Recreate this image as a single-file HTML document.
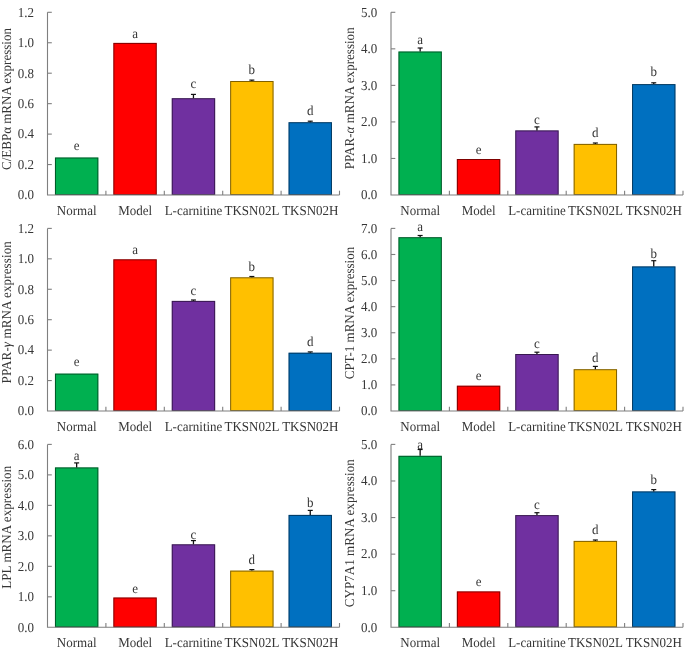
<!DOCTYPE html>
<html><head><meta charset="utf-8"><style>
html,body{margin:0;padding:0;background:#fff;}
body{width:685px;height:652px;overflow:hidden;}
svg{display:block;}
#w{}
text{font-family:"Liberation Serif",serif;font-size:13px;fill:#363636;text-rendering:geometricPrecision;}
</style></head><body>
<div id="w"><svg width="685" height="652" viewBox="0 0 685 652">
<defs><filter id="bl" x="0" y="0" width="100%" height="100%" filterUnits="userSpaceOnUse"><feOffset dx="0" dy="0"/></filter></defs>
<rect width="685" height="652" fill="#fff"/>
<g filter="url(#bl)">
<g><rect x="54.95" y="157.50" width="43.40" height="37.50" fill="#00B050"/><rect x="55.45" y="158.00" width="42.40" height="36.50" fill="none" stroke="#000" stroke-opacity="0.5" stroke-width="1.0"/><text transform="translate(76.65,149.80) scale(1,1.05)" text-anchor="middle">e</text><rect x="113.35" y="42.90" width="43.40" height="152.10" fill="#FF0000"/><rect x="113.85" y="43.40" width="42.40" height="151.10" fill="none" stroke="#000" stroke-opacity="0.5" stroke-width="1.0"/><text transform="translate(135.05,38.10) scale(1,1.05)" text-anchor="middle">a</text><rect x="171.75" y="98.20" width="43.40" height="96.80" fill="#7030A0"/><rect x="172.25" y="98.70" width="42.40" height="95.80" fill="none" stroke="#000" stroke-opacity="0.5" stroke-width="1.0"/><line x1="193.45" y1="98.20" x2="193.45" y2="94.40" stroke="#111" stroke-width="1.3"/><line x1="190.95" y1="94.40" x2="195.95" y2="94.40" stroke="#111" stroke-width="1.2"/><text transform="translate(193.45,88.20) scale(1,1.05)" text-anchor="middle">c</text><rect x="230.15" y="81.00" width="43.40" height="114.00" fill="#FFC000"/><rect x="230.65" y="81.50" width="42.40" height="113.00" fill="none" stroke="#000" stroke-opacity="0.5" stroke-width="1.0"/><line x1="251.85" y1="81.00" x2="251.85" y2="80.10" stroke="#111" stroke-width="1.3"/><line x1="249.35" y1="80.10" x2="254.35" y2="80.10" stroke="#111" stroke-width="1.2"/><text transform="translate(251.85,73.60) scale(1,1.05)" text-anchor="middle">b</text><rect x="288.55" y="122.20" width="43.40" height="72.80" fill="#0070C0"/><rect x="289.05" y="122.70" width="42.40" height="71.80" fill="none" stroke="#000" stroke-opacity="0.5" stroke-width="1.0"/><line x1="310.25" y1="122.20" x2="310.25" y2="121.20" stroke="#111" stroke-width="1.3"/><line x1="307.75" y1="121.20" x2="312.75" y2="121.20" stroke="#111" stroke-width="1.2"/><text transform="translate(310.25,115.10) scale(1,1.05)" text-anchor="middle">d</text><path d="M47.50,12.30V195.00H339.50" fill="none" stroke="#7f7f7f" stroke-width="1.1"/><text transform="translate(34.10,199.30) scale(1,1.05)" text-anchor="end">0.0</text><line x1="47.50" y1="164.55" x2="51.80" y2="164.55" stroke="#7f7f7f" stroke-width="1.1"/><text transform="translate(34.10,168.85) scale(1,1.05)" text-anchor="end">0.2</text><line x1="47.50" y1="134.10" x2="51.80" y2="134.10" stroke="#7f7f7f" stroke-width="1.1"/><text transform="translate(34.10,138.40) scale(1,1.05)" text-anchor="end">0.4</text><line x1="47.50" y1="103.65" x2="51.80" y2="103.65" stroke="#7f7f7f" stroke-width="1.1"/><text transform="translate(34.10,107.95) scale(1,1.05)" text-anchor="end">0.6</text><line x1="47.50" y1="73.20" x2="51.80" y2="73.20" stroke="#7f7f7f" stroke-width="1.1"/><text transform="translate(34.10,77.50) scale(1,1.05)" text-anchor="end">0.8</text><line x1="47.50" y1="42.75" x2="51.80" y2="42.75" stroke="#7f7f7f" stroke-width="1.1"/><text transform="translate(34.10,47.05) scale(1,1.05)" text-anchor="end">1.0</text><line x1="47.50" y1="12.30" x2="51.80" y2="12.30" stroke="#7f7f7f" stroke-width="1.1"/><text transform="translate(34.10,16.60) scale(1,1.05)" text-anchor="end">1.2</text><line x1="105.90" y1="195.00" x2="105.90" y2="190.70" stroke="#7f7f7f" stroke-width="1.1"/><line x1="164.30" y1="195.00" x2="164.30" y2="190.70" stroke="#7f7f7f" stroke-width="1.1"/><line x1="222.70" y1="195.00" x2="222.70" y2="190.70" stroke="#7f7f7f" stroke-width="1.1"/><line x1="281.10" y1="195.00" x2="281.10" y2="190.70" stroke="#7f7f7f" stroke-width="1.1"/><line x1="339.50" y1="195.00" x2="339.50" y2="190.70" stroke="#7f7f7f" stroke-width="1.1"/><text transform="translate(76.70,214.50) scale(1,1.05)" text-anchor="middle">Normal</text><text transform="translate(135.10,214.50) scale(1,1.05)" text-anchor="middle">Model</text><text transform="translate(193.50,214.50) scale(1,1.05)" text-anchor="middle">L-carnitine</text><text transform="translate(251.90,214.50) scale(1,1.05)" text-anchor="middle">TKSN02L</text><text transform="translate(310.30,214.50) scale(1,1.05)" text-anchor="middle">TKSN02H</text><text transform="translate(11.10,99.00) rotate(-90) scale(1,1.05)" text-anchor="middle" textLength="141.9" lengthAdjust="spacing">C/EBP&#945; mRNA expression</text></g>
<g><rect x="398.45" y="51.50" width="43.40" height="143.50" fill="#00B050"/><rect x="398.95" y="52.00" width="42.40" height="142.50" fill="none" stroke="#000" stroke-opacity="0.5" stroke-width="1.0"/><line x1="420.15" y1="51.50" x2="420.15" y2="48.00" stroke="#111" stroke-width="1.3"/><line x1="417.65" y1="48.00" x2="422.65" y2="48.00" stroke="#111" stroke-width="1.2"/><text transform="translate(420.15,44.00) scale(1,1.05)" text-anchor="middle">a</text><rect x="456.85" y="159.00" width="43.40" height="36.00" fill="#FF0000"/><rect x="457.35" y="159.50" width="42.40" height="35.00" fill="none" stroke="#000" stroke-opacity="0.5" stroke-width="1.0"/><text transform="translate(478.55,153.70) scale(1,1.05)" text-anchor="middle">e</text><rect x="515.25" y="130.40" width="43.40" height="64.60" fill="#7030A0"/><rect x="515.75" y="130.90" width="42.40" height="63.60" fill="none" stroke="#000" stroke-opacity="0.5" stroke-width="1.0"/><line x1="536.95" y1="130.40" x2="536.95" y2="126.90" stroke="#111" stroke-width="1.3"/><line x1="534.45" y1="126.90" x2="539.45" y2="126.90" stroke="#111" stroke-width="1.2"/><text transform="translate(536.95,124.30) scale(1,1.05)" text-anchor="middle">c</text><rect x="573.65" y="143.90" width="43.40" height="51.10" fill="#FFC000"/><rect x="574.15" y="144.40" width="42.40" height="50.10" fill="none" stroke="#000" stroke-opacity="0.5" stroke-width="1.0"/><line x1="595.35" y1="143.90" x2="595.35" y2="143.00" stroke="#111" stroke-width="1.3"/><line x1="592.85" y1="143.00" x2="597.85" y2="143.00" stroke="#111" stroke-width="1.2"/><text transform="translate(595.35,136.60) scale(1,1.05)" text-anchor="middle">d</text><rect x="632.05" y="84.10" width="43.40" height="110.90" fill="#0070C0"/><rect x="632.55" y="84.60" width="42.40" height="109.90" fill="none" stroke="#000" stroke-opacity="0.5" stroke-width="1.0"/><line x1="653.75" y1="84.10" x2="653.75" y2="82.80" stroke="#111" stroke-width="1.3"/><line x1="651.25" y1="82.80" x2="656.25" y2="82.80" stroke="#111" stroke-width="1.2"/><text transform="translate(653.75,75.80) scale(1,1.05)" text-anchor="middle">b</text><path d="M391.00,12.30V195.00H683.00" fill="none" stroke="#7f7f7f" stroke-width="1.1"/><text transform="translate(377.30,199.30) scale(1,1.05)" text-anchor="end">0.0</text><line x1="391.00" y1="158.46" x2="395.30" y2="158.46" stroke="#7f7f7f" stroke-width="1.1"/><text transform="translate(377.30,162.76) scale(1,1.05)" text-anchor="end">1.0</text><line x1="391.00" y1="121.92" x2="395.30" y2="121.92" stroke="#7f7f7f" stroke-width="1.1"/><text transform="translate(377.30,126.22) scale(1,1.05)" text-anchor="end">2.0</text><line x1="391.00" y1="85.38" x2="395.30" y2="85.38" stroke="#7f7f7f" stroke-width="1.1"/><text transform="translate(377.30,89.68) scale(1,1.05)" text-anchor="end">3.0</text><line x1="391.00" y1="48.84" x2="395.30" y2="48.84" stroke="#7f7f7f" stroke-width="1.1"/><text transform="translate(377.30,53.14) scale(1,1.05)" text-anchor="end">4.0</text><line x1="391.00" y1="12.30" x2="395.30" y2="12.30" stroke="#7f7f7f" stroke-width="1.1"/><text transform="translate(377.30,16.60) scale(1,1.05)" text-anchor="end">5.0</text><line x1="449.40" y1="195.00" x2="449.40" y2="190.70" stroke="#7f7f7f" stroke-width="1.1"/><line x1="507.80" y1="195.00" x2="507.80" y2="190.70" stroke="#7f7f7f" stroke-width="1.1"/><line x1="566.20" y1="195.00" x2="566.20" y2="190.70" stroke="#7f7f7f" stroke-width="1.1"/><line x1="624.60" y1="195.00" x2="624.60" y2="190.70" stroke="#7f7f7f" stroke-width="1.1"/><line x1="683.00" y1="195.00" x2="683.00" y2="190.70" stroke="#7f7f7f" stroke-width="1.1"/><text transform="translate(420.20,214.50) scale(1,1.05)" text-anchor="middle">Normal</text><text transform="translate(478.60,214.50) scale(1,1.05)" text-anchor="middle">Model</text><text transform="translate(537.00,214.50) scale(1,1.05)" text-anchor="middle">L-carnitine</text><text transform="translate(595.40,214.50) scale(1,1.05)" text-anchor="middle">TKSN02L</text><text transform="translate(653.80,214.50) scale(1,1.05)" text-anchor="middle">TKSN02H</text><text transform="translate(354.10,98.30) rotate(-90) scale(1,1.05)" text-anchor="middle" textLength="141.9" lengthAdjust="spacing">PPAR-<tspan font-style="italic">&#945;</tspan> mRNA expression</text></g>
<g><rect x="54.95" y="373.60" width="43.40" height="37.40" fill="#00B050"/><rect x="55.45" y="374.10" width="42.40" height="36.40" fill="none" stroke="#000" stroke-opacity="0.5" stroke-width="1.0"/><text transform="translate(76.65,366.30) scale(1,1.05)" text-anchor="middle">e</text><rect x="113.35" y="259.30" width="43.40" height="151.70" fill="#FF0000"/><rect x="113.85" y="259.80" width="42.40" height="150.70" fill="none" stroke="#000" stroke-opacity="0.5" stroke-width="1.0"/><text transform="translate(135.05,254.00) scale(1,1.05)" text-anchor="middle">a</text><rect x="171.75" y="300.90" width="43.40" height="110.10" fill="#7030A0"/><rect x="172.25" y="301.40" width="42.40" height="109.10" fill="none" stroke="#000" stroke-opacity="0.5" stroke-width="1.0"/><line x1="193.45" y1="300.90" x2="193.45" y2="300.00" stroke="#111" stroke-width="1.3"/><line x1="190.95" y1="300.00" x2="195.95" y2="300.00" stroke="#111" stroke-width="1.2"/><text transform="translate(193.45,295.20) scale(1,1.05)" text-anchor="middle">c</text><rect x="230.15" y="277.30" width="43.40" height="133.70" fill="#FFC000"/><rect x="230.65" y="277.80" width="42.40" height="132.70" fill="none" stroke="#000" stroke-opacity="0.5" stroke-width="1.0"/><line x1="251.85" y1="277.30" x2="251.85" y2="276.50" stroke="#111" stroke-width="1.3"/><line x1="249.35" y1="276.50" x2="254.35" y2="276.50" stroke="#111" stroke-width="1.2"/><text transform="translate(251.85,271.10) scale(1,1.05)" text-anchor="middle">b</text><rect x="288.55" y="352.70" width="43.40" height="58.30" fill="#0070C0"/><rect x="289.05" y="353.20" width="42.40" height="57.30" fill="none" stroke="#000" stroke-opacity="0.5" stroke-width="1.0"/><line x1="310.25" y1="352.70" x2="310.25" y2="351.90" stroke="#111" stroke-width="1.3"/><line x1="307.75" y1="351.90" x2="312.75" y2="351.90" stroke="#111" stroke-width="1.2"/><text transform="translate(310.25,346.00) scale(1,1.05)" text-anchor="middle">d</text><path d="M47.50,228.40V411.00H339.50" fill="none" stroke="#7f7f7f" stroke-width="1.1"/><text transform="translate(34.10,415.30) scale(1,1.05)" text-anchor="end">0.0</text><line x1="47.50" y1="380.57" x2="51.80" y2="380.57" stroke="#7f7f7f" stroke-width="1.1"/><text transform="translate(34.10,384.87) scale(1,1.05)" text-anchor="end">0.2</text><line x1="47.50" y1="350.13" x2="51.80" y2="350.13" stroke="#7f7f7f" stroke-width="1.1"/><text transform="translate(34.10,354.43) scale(1,1.05)" text-anchor="end">0.4</text><line x1="47.50" y1="319.70" x2="51.80" y2="319.70" stroke="#7f7f7f" stroke-width="1.1"/><text transform="translate(34.10,324.00) scale(1,1.05)" text-anchor="end">0.6</text><line x1="47.50" y1="289.27" x2="51.80" y2="289.27" stroke="#7f7f7f" stroke-width="1.1"/><text transform="translate(34.10,293.57) scale(1,1.05)" text-anchor="end">0.8</text><line x1="47.50" y1="258.83" x2="51.80" y2="258.83" stroke="#7f7f7f" stroke-width="1.1"/><text transform="translate(34.10,263.13) scale(1,1.05)" text-anchor="end">1.0</text><line x1="47.50" y1="228.40" x2="51.80" y2="228.40" stroke="#7f7f7f" stroke-width="1.1"/><text transform="translate(34.10,232.70) scale(1,1.05)" text-anchor="end">1.2</text><line x1="105.90" y1="411.00" x2="105.90" y2="406.70" stroke="#7f7f7f" stroke-width="1.1"/><line x1="164.30" y1="411.00" x2="164.30" y2="406.70" stroke="#7f7f7f" stroke-width="1.1"/><line x1="222.70" y1="411.00" x2="222.70" y2="406.70" stroke="#7f7f7f" stroke-width="1.1"/><line x1="281.10" y1="411.00" x2="281.10" y2="406.70" stroke="#7f7f7f" stroke-width="1.1"/><line x1="339.50" y1="411.00" x2="339.50" y2="406.70" stroke="#7f7f7f" stroke-width="1.1"/><text transform="translate(76.70,430.60) scale(1,1.05)" text-anchor="middle">Normal</text><text transform="translate(135.10,430.60) scale(1,1.05)" text-anchor="middle">Model</text><text transform="translate(193.50,430.60) scale(1,1.05)" text-anchor="middle">L-carnitine</text><text transform="translate(251.90,430.60) scale(1,1.05)" text-anchor="middle">TKSN02L</text><text transform="translate(310.30,430.60) scale(1,1.05)" text-anchor="middle">TKSN02H</text><text transform="translate(11.10,312.30) rotate(-90) scale(1,1.05)" text-anchor="middle" textLength="142.2" lengthAdjust="spacing">PPAR-<tspan font-style="italic">&#947;</tspan> mRNA expression</text></g>
<g><rect x="398.45" y="237.20" width="43.40" height="173.80" fill="#00B050"/><rect x="398.95" y="237.70" width="42.40" height="172.80" fill="none" stroke="#000" stroke-opacity="0.5" stroke-width="1.0"/><line x1="420.15" y1="237.20" x2="420.15" y2="235.50" stroke="#111" stroke-width="1.3"/><line x1="417.65" y1="235.50" x2="422.65" y2="235.50" stroke="#111" stroke-width="1.2"/><text transform="translate(420.15,230.70) scale(1,1.05)" text-anchor="middle">a</text><rect x="456.85" y="385.70" width="43.40" height="25.30" fill="#FF0000"/><rect x="457.35" y="386.20" width="42.40" height="24.30" fill="none" stroke="#000" stroke-opacity="0.5" stroke-width="1.0"/><text transform="translate(478.55,380.30) scale(1,1.05)" text-anchor="middle">e</text><rect x="515.25" y="354.00" width="43.40" height="57.00" fill="#7030A0"/><rect x="515.75" y="354.50" width="42.40" height="56.00" fill="none" stroke="#000" stroke-opacity="0.5" stroke-width="1.0"/><line x1="536.95" y1="354.00" x2="536.95" y2="352.20" stroke="#111" stroke-width="1.3"/><line x1="534.45" y1="352.20" x2="539.45" y2="352.20" stroke="#111" stroke-width="1.2"/><text transform="translate(536.95,347.90) scale(1,1.05)" text-anchor="middle">c</text><rect x="573.65" y="369.20" width="43.40" height="41.80" fill="#FFC000"/><rect x="574.15" y="369.70" width="42.40" height="40.80" fill="none" stroke="#000" stroke-opacity="0.5" stroke-width="1.0"/><line x1="595.35" y1="369.20" x2="595.35" y2="366.40" stroke="#111" stroke-width="1.3"/><line x1="592.85" y1="366.40" x2="597.85" y2="366.40" stroke="#111" stroke-width="1.2"/><text transform="translate(595.35,362.30) scale(1,1.05)" text-anchor="middle">d</text><rect x="632.05" y="266.40" width="43.40" height="144.60" fill="#0070C0"/><rect x="632.55" y="266.90" width="42.40" height="143.60" fill="none" stroke="#000" stroke-opacity="0.5" stroke-width="1.0"/><line x1="653.75" y1="266.40" x2="653.75" y2="260.70" stroke="#111" stroke-width="1.3"/><line x1="651.25" y1="260.70" x2="656.25" y2="260.70" stroke="#111" stroke-width="1.2"/><text transform="translate(653.75,258.40) scale(1,1.05)" text-anchor="middle">b</text><path d="M391.00,228.40V411.00H683.00" fill="none" stroke="#7f7f7f" stroke-width="1.1"/><text transform="translate(377.30,415.30) scale(1,1.05)" text-anchor="end">0.0</text><line x1="391.00" y1="384.91" x2="395.30" y2="384.91" stroke="#7f7f7f" stroke-width="1.1"/><text transform="translate(377.30,389.21) scale(1,1.05)" text-anchor="end">1.0</text><line x1="391.00" y1="358.83" x2="395.30" y2="358.83" stroke="#7f7f7f" stroke-width="1.1"/><text transform="translate(377.30,363.13) scale(1,1.05)" text-anchor="end">2.0</text><line x1="391.00" y1="332.74" x2="395.30" y2="332.74" stroke="#7f7f7f" stroke-width="1.1"/><text transform="translate(377.30,337.04) scale(1,1.05)" text-anchor="end">3.0</text><line x1="391.00" y1="306.66" x2="395.30" y2="306.66" stroke="#7f7f7f" stroke-width="1.1"/><text transform="translate(377.30,310.96) scale(1,1.05)" text-anchor="end">4.0</text><line x1="391.00" y1="280.57" x2="395.30" y2="280.57" stroke="#7f7f7f" stroke-width="1.1"/><text transform="translate(377.30,284.87) scale(1,1.05)" text-anchor="end">5.0</text><line x1="391.00" y1="254.49" x2="395.30" y2="254.49" stroke="#7f7f7f" stroke-width="1.1"/><text transform="translate(377.30,258.79) scale(1,1.05)" text-anchor="end">6.0</text><line x1="391.00" y1="228.40" x2="395.30" y2="228.40" stroke="#7f7f7f" stroke-width="1.1"/><text transform="translate(377.30,232.70) scale(1,1.05)" text-anchor="end">7.0</text><line x1="449.40" y1="411.00" x2="449.40" y2="406.70" stroke="#7f7f7f" stroke-width="1.1"/><line x1="507.80" y1="411.00" x2="507.80" y2="406.70" stroke="#7f7f7f" stroke-width="1.1"/><line x1="566.20" y1="411.00" x2="566.20" y2="406.70" stroke="#7f7f7f" stroke-width="1.1"/><line x1="624.60" y1="411.00" x2="624.60" y2="406.70" stroke="#7f7f7f" stroke-width="1.1"/><line x1="683.00" y1="411.00" x2="683.00" y2="406.70" stroke="#7f7f7f" stroke-width="1.1"/><text transform="translate(420.20,430.60) scale(1,1.05)" text-anchor="middle">Normal</text><text transform="translate(478.60,430.60) scale(1,1.05)" text-anchor="middle">Model</text><text transform="translate(537.00,430.60) scale(1,1.05)" text-anchor="middle">L-carnitine</text><text transform="translate(595.40,430.60) scale(1,1.05)" text-anchor="middle">TKSN02L</text><text transform="translate(653.80,430.60) scale(1,1.05)" text-anchor="middle">TKSN02H</text><text transform="translate(354.10,313.00) rotate(-90) scale(1,1.05)" text-anchor="middle" textLength="132.4" lengthAdjust="spacing">CPT-1 mRNA expression</text></g>
<g><rect x="54.95" y="467.40" width="43.40" height="159.90" fill="#00B050"/><rect x="55.45" y="467.90" width="42.40" height="158.90" fill="none" stroke="#000" stroke-opacity="0.5" stroke-width="1.0"/><line x1="76.65" y1="467.40" x2="76.65" y2="462.90" stroke="#111" stroke-width="1.3"/><line x1="74.15" y1="462.90" x2="79.15" y2="462.90" stroke="#111" stroke-width="1.2"/><text transform="translate(76.65,460.30) scale(1,1.05)" text-anchor="middle">a</text><rect x="113.35" y="597.50" width="43.40" height="29.80" fill="#FF0000"/><rect x="113.85" y="598.00" width="42.40" height="28.80" fill="none" stroke="#000" stroke-opacity="0.5" stroke-width="1.0"/><text transform="translate(135.05,592.50) scale(1,1.05)" text-anchor="middle">e</text><rect x="171.75" y="544.30" width="43.40" height="83.00" fill="#7030A0"/><rect x="172.25" y="544.80" width="42.40" height="82.00" fill="none" stroke="#000" stroke-opacity="0.5" stroke-width="1.0"/><line x1="193.45" y1="544.30" x2="193.45" y2="540.60" stroke="#111" stroke-width="1.3"/><line x1="190.95" y1="540.60" x2="195.95" y2="540.60" stroke="#111" stroke-width="1.2"/><text transform="translate(193.45,538.60) scale(1,1.05)" text-anchor="middle">c</text><rect x="230.15" y="570.60" width="43.40" height="56.70" fill="#FFC000"/><rect x="230.65" y="571.10" width="42.40" height="55.70" fill="none" stroke="#000" stroke-opacity="0.5" stroke-width="1.0"/><line x1="251.85" y1="570.60" x2="251.85" y2="569.60" stroke="#111" stroke-width="1.3"/><line x1="249.35" y1="569.60" x2="254.35" y2="569.60" stroke="#111" stroke-width="1.2"/><text transform="translate(251.85,564.20) scale(1,1.05)" text-anchor="middle">d</text><rect x="288.55" y="514.90" width="43.40" height="112.40" fill="#0070C0"/><rect x="289.05" y="515.40" width="42.40" height="111.40" fill="none" stroke="#000" stroke-opacity="0.5" stroke-width="1.0"/><line x1="310.25" y1="514.90" x2="310.25" y2="510.40" stroke="#111" stroke-width="1.3"/><line x1="307.75" y1="510.40" x2="312.75" y2="510.40" stroke="#111" stroke-width="1.2"/><text transform="translate(310.25,507.10) scale(1,1.05)" text-anchor="middle">b</text><path d="M47.50,444.40V627.30H339.50" fill="none" stroke="#7f7f7f" stroke-width="1.1"/><text transform="translate(34.10,631.60) scale(1,1.05)" text-anchor="end">0.0</text><line x1="47.50" y1="596.82" x2="51.80" y2="596.82" stroke="#7f7f7f" stroke-width="1.1"/><text transform="translate(34.10,601.12) scale(1,1.05)" text-anchor="end">1.0</text><line x1="47.50" y1="566.33" x2="51.80" y2="566.33" stroke="#7f7f7f" stroke-width="1.1"/><text transform="translate(34.10,570.63) scale(1,1.05)" text-anchor="end">2.0</text><line x1="47.50" y1="535.85" x2="51.80" y2="535.85" stroke="#7f7f7f" stroke-width="1.1"/><text transform="translate(34.10,540.15) scale(1,1.05)" text-anchor="end">3.0</text><line x1="47.50" y1="505.37" x2="51.80" y2="505.37" stroke="#7f7f7f" stroke-width="1.1"/><text transform="translate(34.10,509.67) scale(1,1.05)" text-anchor="end">4.0</text><line x1="47.50" y1="474.88" x2="51.80" y2="474.88" stroke="#7f7f7f" stroke-width="1.1"/><text transform="translate(34.10,479.18) scale(1,1.05)" text-anchor="end">5.0</text><line x1="47.50" y1="444.40" x2="51.80" y2="444.40" stroke="#7f7f7f" stroke-width="1.1"/><text transform="translate(34.10,448.70) scale(1,1.05)" text-anchor="end">6.0</text><line x1="105.90" y1="627.30" x2="105.90" y2="623.00" stroke="#7f7f7f" stroke-width="1.1"/><line x1="164.30" y1="627.30" x2="164.30" y2="623.00" stroke="#7f7f7f" stroke-width="1.1"/><line x1="222.70" y1="627.30" x2="222.70" y2="623.00" stroke="#7f7f7f" stroke-width="1.1"/><line x1="281.10" y1="627.30" x2="281.10" y2="623.00" stroke="#7f7f7f" stroke-width="1.1"/><line x1="339.50" y1="627.30" x2="339.50" y2="623.00" stroke="#7f7f7f" stroke-width="1.1"/><text transform="translate(76.70,647.10) scale(1,1.05)" text-anchor="middle">Normal</text><text transform="translate(135.10,647.10) scale(1,1.05)" text-anchor="middle">Model</text><text transform="translate(193.50,647.10) scale(1,1.05)" text-anchor="middle">L-carnitine</text><text transform="translate(251.90,647.10) scale(1,1.05)" text-anchor="middle">TKSN02L</text><text transform="translate(310.30,647.10) scale(1,1.05)" text-anchor="middle">TKSN02H</text><text transform="translate(11.10,527.30) rotate(-90) scale(1,1.05)" text-anchor="middle" textLength="123.0" lengthAdjust="spacing">LPL mRNA expression</text></g>
<g><rect x="398.45" y="455.80" width="43.40" height="171.50" fill="#00B050"/><rect x="398.95" y="456.30" width="42.40" height="170.50" fill="none" stroke="#000" stroke-opacity="0.5" stroke-width="1.0"/><line x1="420.15" y1="455.80" x2="420.15" y2="449.50" stroke="#111" stroke-width="1.3"/><line x1="417.65" y1="449.50" x2="422.65" y2="449.50" stroke="#111" stroke-width="1.2"/><text transform="translate(420.15,449.20) scale(1,1.05)" text-anchor="middle">a</text><rect x="456.85" y="591.40" width="43.40" height="35.90" fill="#FF0000"/><rect x="457.35" y="591.90" width="42.40" height="34.90" fill="none" stroke="#000" stroke-opacity="0.5" stroke-width="1.0"/><text transform="translate(478.55,585.80) scale(1,1.05)" text-anchor="middle">e</text><rect x="515.25" y="515.10" width="43.40" height="112.20" fill="#7030A0"/><rect x="515.75" y="515.60" width="42.40" height="111.20" fill="none" stroke="#000" stroke-opacity="0.5" stroke-width="1.0"/><line x1="536.95" y1="515.10" x2="536.95" y2="512.70" stroke="#111" stroke-width="1.3"/><line x1="534.45" y1="512.70" x2="539.45" y2="512.70" stroke="#111" stroke-width="1.2"/><text transform="translate(536.95,509.20) scale(1,1.05)" text-anchor="middle">c</text><rect x="573.65" y="540.90" width="43.40" height="86.40" fill="#FFC000"/><rect x="574.15" y="541.40" width="42.40" height="85.40" fill="none" stroke="#000" stroke-opacity="0.5" stroke-width="1.0"/><line x1="595.35" y1="540.90" x2="595.35" y2="540.00" stroke="#111" stroke-width="1.3"/><line x1="592.85" y1="540.00" x2="597.85" y2="540.00" stroke="#111" stroke-width="1.2"/><text transform="translate(595.35,534.30) scale(1,1.05)" text-anchor="middle">d</text><rect x="632.05" y="491.40" width="43.40" height="135.90" fill="#0070C0"/><rect x="632.55" y="491.90" width="42.40" height="134.90" fill="none" stroke="#000" stroke-opacity="0.5" stroke-width="1.0"/><line x1="653.75" y1="491.40" x2="653.75" y2="489.60" stroke="#111" stroke-width="1.3"/><line x1="651.25" y1="489.60" x2="656.25" y2="489.60" stroke="#111" stroke-width="1.2"/><text transform="translate(653.75,483.70) scale(1,1.05)" text-anchor="middle">b</text><path d="M391.00,444.40V627.30H683.00" fill="none" stroke="#7f7f7f" stroke-width="1.1"/><text transform="translate(377.30,631.60) scale(1,1.05)" text-anchor="end">0.0</text><line x1="391.00" y1="590.72" x2="395.30" y2="590.72" stroke="#7f7f7f" stroke-width="1.1"/><text transform="translate(377.30,595.02) scale(1,1.05)" text-anchor="end">1.0</text><line x1="391.00" y1="554.14" x2="395.30" y2="554.14" stroke="#7f7f7f" stroke-width="1.1"/><text transform="translate(377.30,558.44) scale(1,1.05)" text-anchor="end">2.0</text><line x1="391.00" y1="517.56" x2="395.30" y2="517.56" stroke="#7f7f7f" stroke-width="1.1"/><text transform="translate(377.30,521.86) scale(1,1.05)" text-anchor="end">3.0</text><line x1="391.00" y1="480.98" x2="395.30" y2="480.98" stroke="#7f7f7f" stroke-width="1.1"/><text transform="translate(377.30,485.28) scale(1,1.05)" text-anchor="end">4.0</text><line x1="391.00" y1="444.40" x2="395.30" y2="444.40" stroke="#7f7f7f" stroke-width="1.1"/><text transform="translate(377.30,448.70) scale(1,1.05)" text-anchor="end">5.0</text><line x1="449.40" y1="627.30" x2="449.40" y2="623.00" stroke="#7f7f7f" stroke-width="1.1"/><line x1="507.80" y1="627.30" x2="507.80" y2="623.00" stroke="#7f7f7f" stroke-width="1.1"/><line x1="566.20" y1="627.30" x2="566.20" y2="623.00" stroke="#7f7f7f" stroke-width="1.1"/><line x1="624.60" y1="627.30" x2="624.60" y2="623.00" stroke="#7f7f7f" stroke-width="1.1"/><line x1="683.00" y1="627.30" x2="683.00" y2="623.00" stroke="#7f7f7f" stroke-width="1.1"/><text transform="translate(420.20,647.10) scale(1,1.05)" text-anchor="middle">Normal</text><text transform="translate(478.60,647.10) scale(1,1.05)" text-anchor="middle">Model</text><text transform="translate(537.00,647.10) scale(1,1.05)" text-anchor="middle">L-carnitine</text><text transform="translate(595.40,647.10) scale(1,1.05)" text-anchor="middle">TKSN02L</text><text transform="translate(653.80,647.10) scale(1,1.05)" text-anchor="middle">TKSN02H</text><text transform="translate(354.10,533.30) rotate(-90) scale(1,1.05)" text-anchor="middle" textLength="148.0" lengthAdjust="spacing">CYP7A1 mRNA expression</text></g>
</g>
</svg></div>
</body></html>
